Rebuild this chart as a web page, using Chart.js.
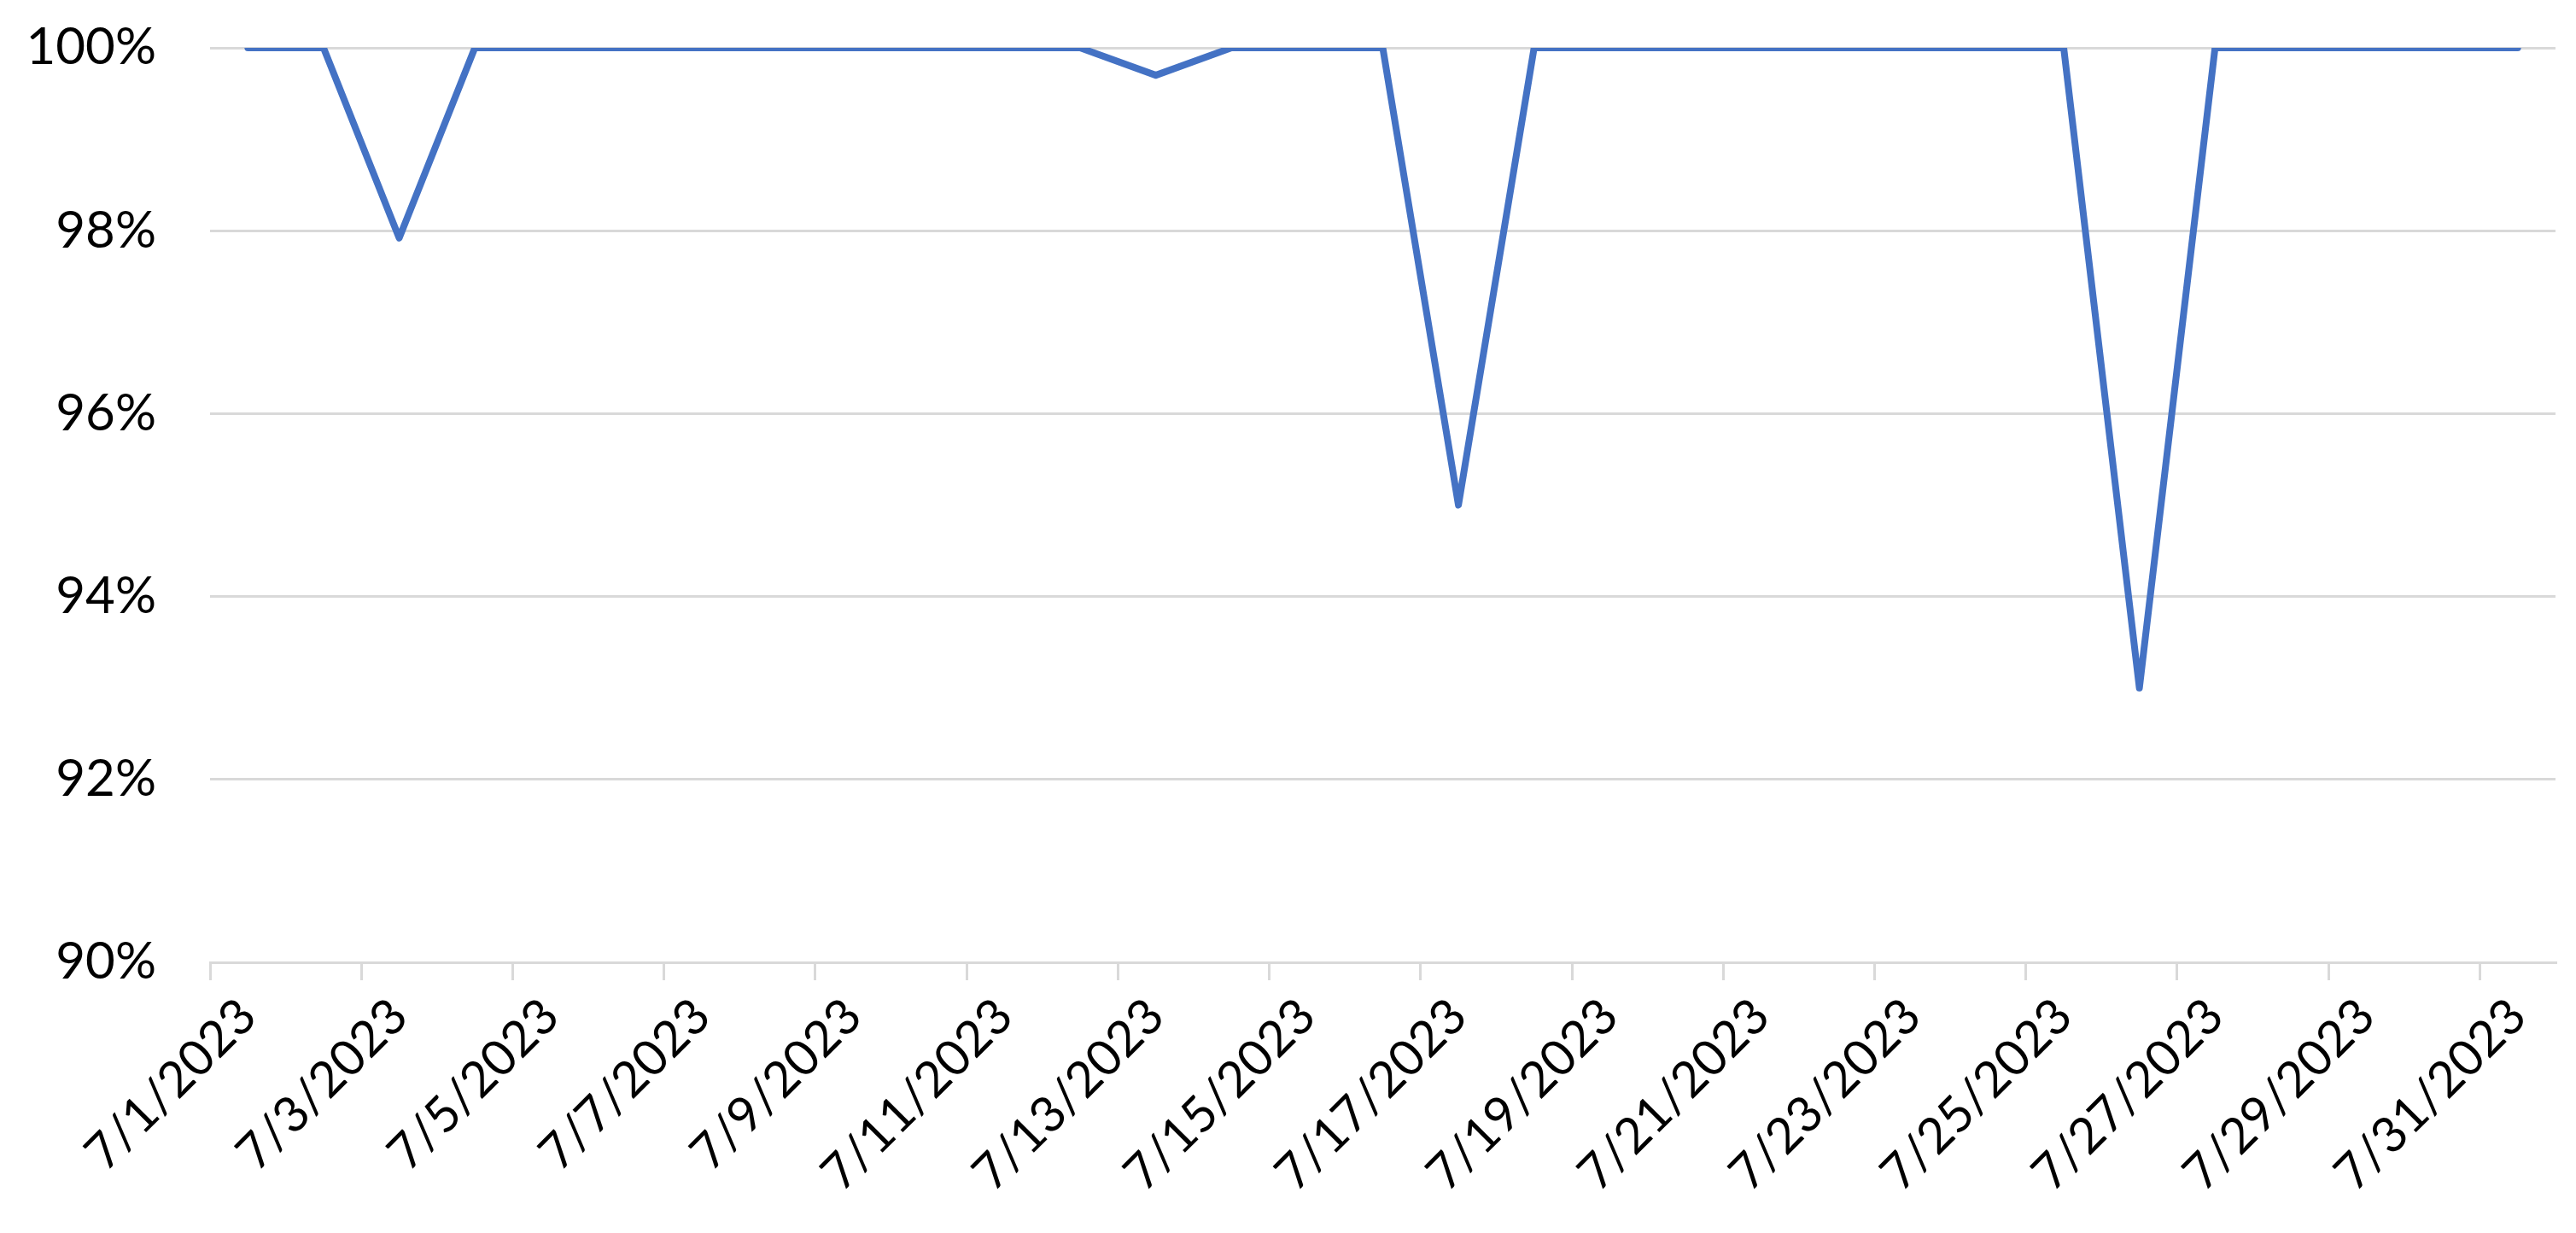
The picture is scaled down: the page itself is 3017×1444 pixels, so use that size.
<!DOCTYPE html>
<html>
<head>
<meta charset="utf-8">
<script src="https://cdn.jsdelivr.net/npm/chart.js@4/dist/chart.umd.min.js"></script>
<style>
  html, body { margin: 0; padding: 0; background: #ffffff; }
  #wrap { width: 3017px; height: 1444px; }
</style>
</head>
<body>
<div id="wrap"><canvas id="c" width="3017" height="1444"></canvas></div>
<script>
const categories = [
  '7/1/2023','7/2/2023','7/3/2023','7/4/2023','7/5/2023','7/6/2023','7/7/2023','7/8/2023',
  '7/9/2023','7/10/2023','7/11/2023','7/12/2023','7/13/2023','7/14/2023','7/15/2023','7/16/2023',
  '7/17/2023','7/18/2023','7/19/2023','7/20/2023','7/21/2023','7/22/2023','7/23/2023','7/24/2023',
  '7/25/2023','7/26/2023','7/27/2023','7/28/2023','7/29/2023','7/30/2023','7/31/2023'
];
const availability = [
  100, 100, 97.92, 100, 100, 100, 100, 100,
  100, 100, 100, 100, 99.7, 100, 100, 100,
  95.0, 100, 100, 100, 100, 100, 100, 100,
  100, 93.0, 100, 100, 100, 100, 100
];
const yMin = 90;
const yMax = 100;
const yStep = 2;
const labelEvery = 2;

const FONT = 'Lato';
const GRID = '#d9d9d9';

new Chart(document.getElementById('c'), {
  type: 'line',
  data: {
    labels: categories,
    datasets: [{
      data: availability,
      borderColor: '#4472C4',
      borderWidth: 8,
      borderJoinStyle: 'round',
      borderCapStyle: 'round',
      pointRadius: 0,
      pointHoverRadius: 0,
      tension: 0,
      fill: false
    }]
  },
  options: {
    responsive: false,
    animation: false,
    devicePixelRatio: 1,
    layout: { padding: { left: 0, right: 24, top: 56, bottom: 0 } },
    plugins: { legend: { display: false }, tooltip: { enabled: false } },
    scales: {
      x: {
        type: 'category',
        offset: true,
        border: { display: true, color: GRID, width: 3 },
        grid: {
          offset: true,
          drawOnChartArea: false,
          drawTicks: true,
          tickLength: 21,
          lineWidth: 3,
          tickColor: (ctx) => (ctx.index !== undefined && ctx.index % labelEvery === 0) ? GRID : 'rgba(0,0,0,0)'
        },
        ticks: {
          autoSkip: false,
          maxRotation: 45,
          minRotation: 45,
          padding: 8,
          color: '#000000',
          font: { family: FONT, size: 58 },
          callback: (v, i) => (i % labelEvery === 0 ? categories[i] : '')
        },
        afterFit: (scale) => { scale.height = 317; }
      },
      y: {
        min: yMin,
        max: yMax,
        border: { display: false },
        grid: { color: GRID, lineWidth: 3, drawTicks: false },
        ticks: {
          stepSize: yStep,
          padding: 63,
          color: '#000000',
          font: { family: FONT, size: 60 },
          callback: (v) => v + '%'
        },
        afterFit: (scale) => { scale.width = 246; scale.paddingTop = 0; scale.paddingBottom = 0; }
      }
    }
  }
});
</script>
</body>
</html>
